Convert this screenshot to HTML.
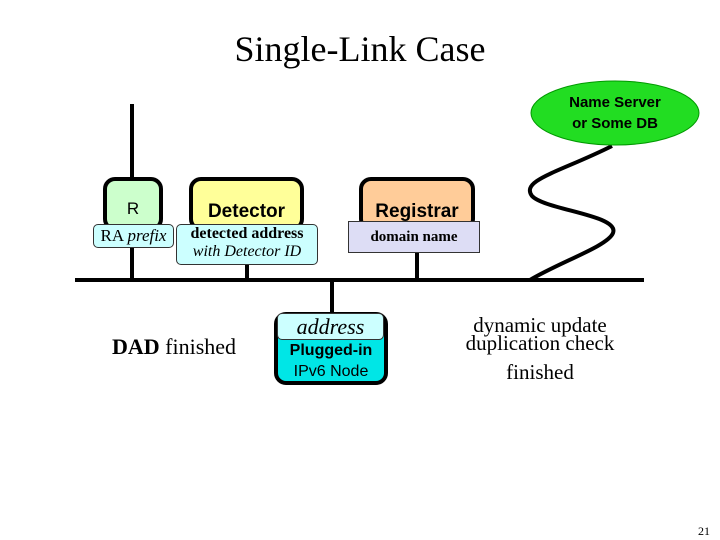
<!DOCTYPE html>
<html><head><style>
body{margin:0;width:720px;height:540px;background:#fff;position:relative;overflow:hidden;font-family:"Liberation Sans",sans-serif}
.a{position:absolute}
.box{position:absolute;border:4px solid #000;border-radius:12px;box-sizing:border-box;text-align:center;font-weight:bold;font-size:19px}
.lab{position:absolute;background:#ccffff;border:1px solid #333;border-radius:5px;box-sizing:border-box;font-family:"Liberation Serif",serif;text-align:center}
</style></head><body>
<div class="a" style="left:0;top:28px;width:720px;text-align:center;font-family:'Liberation Serif',serif;font-size:36px">Single-Link Case</div>
<svg class="a" style="left:0;top:0" width="720" height="540">
<line x1="132" y1="104" x2="132" y2="280" stroke="#000" stroke-width="4"/>
<line x1="247" y1="230" x2="247" y2="280" stroke="#000" stroke-width="4"/>
<line x1="417" y1="230" x2="417" y2="280" stroke="#000" stroke-width="4"/>
<line x1="332" y1="280" x2="332" y2="315" stroke="#000" stroke-width="4"/>
<line x1="75" y1="280" x2="644" y2="280" stroke="#000" stroke-width="4"/>
<path d="M612,146 C560,172 520,180 532,196 C545,210 620,215 613,233 C608,246 560,262 530,280" fill="none" stroke="#000" stroke-width="4"/>
<ellipse cx="615" cy="113" rx="84" ry="32" fill="#22dd22" stroke="#009900" stroke-width="1"/>
<text x="615" y="107" text-anchor="middle" font-family="Liberation Sans" font-weight="bold" font-size="15">Name Server</text>
<text x="615" y="128" text-anchor="middle" font-family="Liberation Sans" font-weight="bold" font-size="15">or Some DB</text>
</svg>
<div class="box" style="left:103px;top:177px;width:60px;height:54px;background:#ccffcc;font-weight:normal;font-size:17px;padding-top:18px">R</div>
<div class="box" style="left:189px;top:177px;width:115px;height:54px;background:#ffff99;padding-top:20px">Detector</div>
<div class="box" style="left:359px;top:177px;width:116px;height:54px;background:#ffcc99;padding-top:20px">Registrar</div>
<div class="lab" style="left:93px;top:224px;width:81px;height:24px;font-size:17px;line-height:22px">RA <i>prefix</i></div>
<div class="lab" style="left:176px;top:224px;width:142px;height:41px;font-size:16px;line-height:18px"><b>detected address</b><br><i>with Detector ID</i></div>
<div class="a" style="left:348px;top:221px;width:132px;height:32px;background:#ddddf5;border:1px solid #333;box-sizing:border-box;font-family:'Liberation Serif',serif;font-weight:bold;font-size:15px;text-align:center;line-height:30px">domain name</div>
<div class="box" style="left:274px;top:312px;width:114px;height:73px;background:#00e6e6;font-size:16px;padding-top:24px;line-height:21px">Plugged-in<br><span style="font-weight:normal">IPv6 Node</span></div>
<div class="lab" style="left:277px;top:313px;width:107px;height:27px;font-size:22px;line-height:26px"><i>address</i></div>
<div class="a" style="left:112px;top:334px;font-family:'Liberation Serif',serif;font-size:22px"><b>DAD</b> finished</div>
<div class="a" style="left:460px;top:316px;width:160px;text-align:center;font-family:'Liberation Serif',serif;font-size:21px;line-height:18px">dynamic update<br>duplication check</div>
<div class="a" style="left:460px;top:360px;width:160px;text-align:center;font-family:'Liberation Serif',serif;font-size:21px">finished</div>
<div class="a" style="left:698px;top:524px;font-family:'Liberation Serif',serif;font-size:12px">21</div>
</body></html>
